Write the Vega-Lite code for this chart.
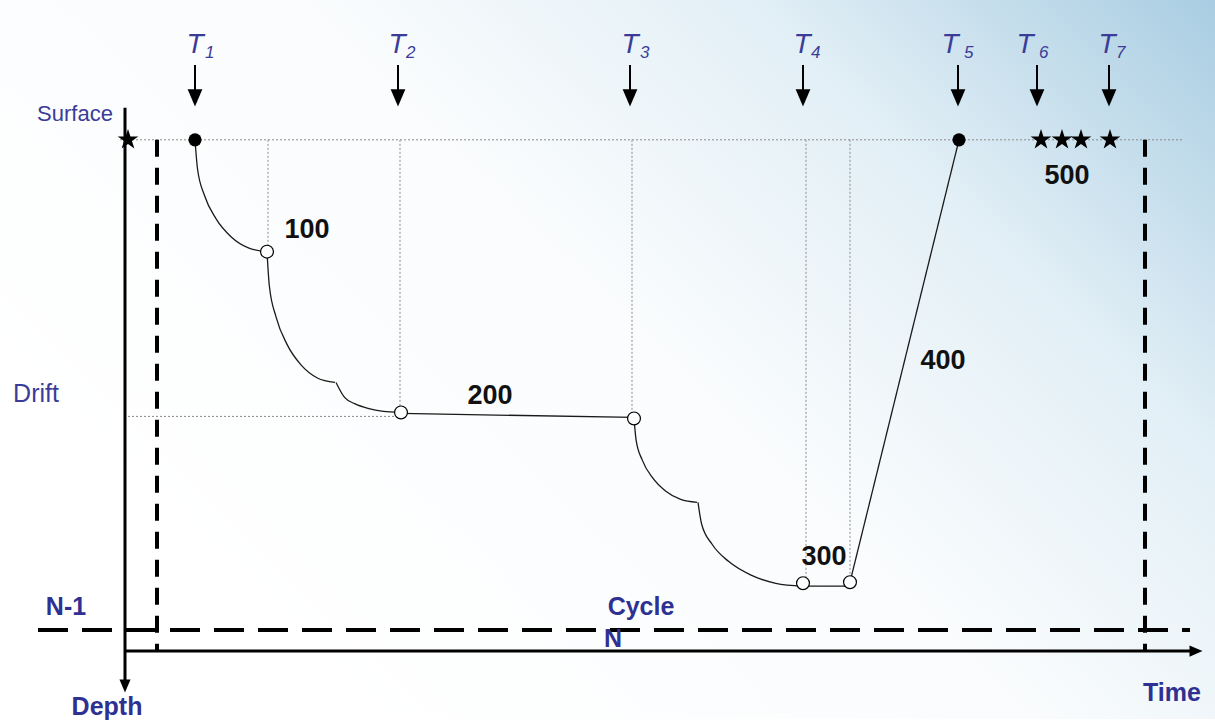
{
  "$schema": "https://vega.github.io/schema/vega-lite/v6.json",
  "width": 1215,
  "height": 720,
  "autosize": {"type": "fit", "contains": "padding"},
  "padding": 0,
  "background": "white",
  "config": {"view": {"stroke": null}},
  "encoding": {
    "x": {"field": "x", "type": "quantitative", "scale": {"domain": [0, 1215], "nice": false, "zero": false}, "axis": null},
    "y": {"field": "y", "type": "quantitative", "scale": {"domain": [0, 720], "nice": false, "zero": false, "reverse": true}, "axis": null}
  },
  "layer": [
    {
      "data": {"values": [{"x": 0, "x2": 1215, "y": 0, "y2": 720}]},
      "mark": {"type": "rect", "fill": {"gradient": "linear", "x1": 0, "y1": 0.6, "x2": 1, "y2": 0, "stops": [
        {"offset": 0, "color": "#ffffff"},
        {"offset": 0.45, "color": "#fafcfd"},
        {"offset": 0.72, "color": "#e2eff6"},
        {"offset": 1, "color": "#a9cde2"}
      ]}},
      "encoding": {"x2": {"field": "x2"}, "y2": {"field": "y2"}}
    },
    {
      "data": {"values": [
        {"kind": "dot", "x": 120, "x2": 1182, "y": 140, "y2": 140},
        {"kind": "dot", "x": 128, "x2": 400, "y": 417, "y2": 417},
        {"kind": "dot", "x": 268, "x2": 268, "y": 140, "y2": 250},
        {"kind": "dot", "x": 400, "x2": 400, "y": 140, "y2": 410},
        {"kind": "dot", "x": 632, "x2": 632, "y": 140, "y2": 416},
        {"kind": "dot", "x": 806, "x2": 806, "y": 140, "y2": 580},
        {"kind": "dot", "x": 850, "x2": 850, "y": 140, "y2": 578},
        {"kind": "dashV", "x": 157, "x2": 157, "y": 140, "y2": 652},
        {"kind": "dashV", "x": 1145, "x2": 1145, "y": 140, "y2": 652},
        {"kind": "dashH", "x": 38, "x2": 1190, "y": 631, "y2": 631},
        {"kind": "axis", "x": 125, "x2": 125, "y": 108, "y2": 684},
        {"kind": "axis", "x": 126, "x2": 1193, "y": 652, "y2": 652},
        {"kind": "shaft", "x": 195, "x2": 195, "y": 65, "y2": 92},
        {"kind": "shaft", "x": 398, "x2": 398, "y": 65, "y2": 92},
        {"kind": "shaft", "x": 630, "x2": 630, "y": 65, "y2": 92},
        {"kind": "shaft", "x": 803, "x2": 803, "y": 65, "y2": 92},
        {"kind": "shaft", "x": 958, "x2": 958, "y": 65, "y2": 92},
        {"kind": "shaft", "x": 1037, "x2": 1037, "y": 65, "y2": 92},
        {"kind": "shaft", "x": 1109, "x2": 1109, "y": 65, "y2": 92}
      ]},
      "layer": [
        {
          "transform": [{"filter": "datum.kind === 'dot'"}],
          "mark": {"type": "rule", "stroke": "#8a8a8a", "strokeWidth": 1, "strokeDash": [2, 2]},
          "encoding": {"x2": {"field": "x2"}, "y2": {"field": "y2"}}
        },
        {
          "transform": [{"filter": "datum.kind === 'dashV'"}],
          "mark": {"type": "rule", "stroke": "#000000", "strokeWidth": 4, "strokeDash": [17, 11]},
          "encoding": {"x2": {"field": "x2"}, "y2": {"field": "y2"}}
        },
        {
          "transform": [{"filter": "datum.kind === 'dashH'"}],
          "mark": {"type": "rule", "stroke": "#000000", "strokeWidth": 4, "strokeDash": [30, 14]},
          "encoding": {"x2": {"field": "x2"}, "y2": {"field": "y2"}}
        },
        {
          "transform": [{"filter": "datum.kind === 'axis'"}],
          "mark": {"type": "rule", "stroke": "#000000", "strokeWidth": 3},
          "encoding": {"x2": {"field": "x2"}, "y2": {"field": "y2"}}
        },
        {
          "transform": [{"filter": "datum.kind === 'shaft'"}],
          "mark": {"type": "rule", "stroke": "#000000", "strokeWidth": 2},
          "encoding": {"x2": {"field": "x2"}, "y2": {"field": "y2"}}
        }
      ]
    },
    {
      "data": {"values": [
        {"seg": "a", "i": 0, "x": 195, "y": 140},
        {"seg": "a", "i": 1, "x": 197.5, "y": 169},
        {"seg": "a", "i": 2, "x": 204.6, "y": 196},
        {"seg": "a", "i": 3, "x": 216.1, "y": 219.2},
        {"seg": "a", "i": 4, "x": 231, "y": 237},
        {"seg": "a", "i": 5, "x": 248.4, "y": 248.2},
        {"seg": "a", "i": 6, "x": 267, "y": 252},
        {"seg": "b", "i": 0, "x": 267, "y": 252},
        {"seg": "b", "i": 1, "x": 269.3, "y": 285.9},
        {"seg": "b", "i": 2, "x": 276.1, "y": 317.5},
        {"seg": "b", "i": 3, "x": 286.9, "y": 344.6},
        {"seg": "b", "i": 4, "x": 301, "y": 365.4},
        {"seg": "b", "i": 5, "x": 317.4, "y": 378.5},
        {"seg": "b", "i": 6, "x": 335, "y": 383},
        {"seg": "c", "i": 0, "x": 336, "y": 383},
        {"seg": "c", "i": 1, "x": 344.6, "y": 398},
        {"seg": "c", "i": 2, "x": 354.7, "y": 404.2},
        {"seg": "c", "i": 3, "x": 368, "y": 409},
        {"seg": "c", "i": 4, "x": 383.4, "y": 412},
        {"seg": "c", "i": 5, "x": 400, "y": 413},
        {"seg": "d", "i": 0, "x": 401, "y": 414},
        {"seg": "d", "i": 1, "x": 634, "y": 418},
        {"seg": "e", "i": 0, "x": 634, "y": 419},
        {"seg": "e", "i": 1, "x": 636.1, "y": 440.7},
        {"seg": "e", "i": 2, "x": 642.4, "y": 461},
        {"seg": "e", "i": 3, "x": 652.5, "y": 478.4},
        {"seg": "e", "i": 4, "x": 665.5, "y": 491.7},
        {"seg": "e", "i": 5, "x": 680.7, "y": 500.1},
        {"seg": "e", "i": 6, "x": 697, "y": 503},
        {"seg": "f", "i": 0, "x": 698, "y": 503},
        {"seg": "f", "i": 1, "x": 701.6, "y": 524.7},
        {"seg": "f", "i": 2, "x": 712.1, "y": 545},
        {"seg": "f", "i": 3, "x": 728.8, "y": 562.4},
        {"seg": "f", "i": 4, "x": 750.5, "y": 575.7},
        {"seg": "f", "i": 5, "x": 775.8, "y": 584.1},
        {"seg": "f", "i": 6, "x": 803, "y": 587},
        {"seg": "g", "i": 0, "x": 803, "y": 587},
        {"seg": "g", "i": 1, "x": 850, "y": 587},
        {"seg": "h", "i": 0, "x": 850, "y": 583},
        {"seg": "h", "i": 1, "x": 959, "y": 140}
      ]},
      "mark": {"type": "line", "stroke": "#1a1a1a", "strokeWidth": 1.3, "interpolate": "monotone"},
      "encoding": {"detail": {"field": "seg", "type": "nominal"}, "order": {"field": "i", "type": "quantitative"}}
    },
    {
      "data": {"values": [
        {"kind": "headT", "x": 195, "y": 98},
        {"kind": "headT", "x": 398, "y": 98},
        {"kind": "headT", "x": 630, "y": 98},
        {"kind": "headT", "x": 803, "y": 98},
        {"kind": "headT", "x": 958, "y": 98},
        {"kind": "headT", "x": 1037, "y": 98},
        {"kind": "headT", "x": 1109, "y": 98},
        {"kind": "headDown", "x": 125, "y": 687},
        {"kind": "headRight", "x": 1196, "y": 652},
        {"kind": "dot", "x": 195, "y": 140},
        {"kind": "dot", "x": 959, "y": 140},
        {"kind": "open", "x": 267, "y": 252},
        {"kind": "open", "x": 401, "y": 413},
        {"kind": "open", "x": 634, "y": 419},
        {"kind": "open", "x": 803, "y": 584},
        {"kind": "open", "x": 850, "y": 583},
        {"kind": "star", "x": 128, "y": 140},
        {"kind": "star", "x": 1041, "y": 140},
        {"kind": "star", "x": 1062, "y": 140},
        {"kind": "star", "x": 1081, "y": 140},
        {"kind": "star", "x": 1110, "y": 140}
      ]},
      "layer": [
        {
          "transform": [{"filter": "datum.kind === 'headT'"}],
          "mark": {"type": "point", "shape": "M-0.85,-1L0.85,-1L0,1Z", "filled": true, "fill": "#000000", "opacity": 1, "size": 300}
        },
        {
          "transform": [{"filter": "datum.kind === 'headDown'"}],
          "mark": {"type": "point", "shape": "M-0.85,-1L0.85,-1L0,1Z", "filled": true, "fill": "#000000", "opacity": 1, "size": 170}
        },
        {
          "transform": [{"filter": "datum.kind === 'headRight'"}],
          "mark": {"type": "point", "shape": "M-1,-0.85L1,0L-1,0.85Z", "filled": true, "fill": "#000000", "opacity": 1, "size": 170}
        },
        {
          "transform": [{"filter": "datum.kind === 'dot'"}],
          "mark": {"type": "point", "shape": "circle", "filled": true, "fill": "#000000", "opacity": 1, "size": 175}
        },
        {
          "transform": [{"filter": "datum.kind === 'open'"}],
          "mark": {"type": "point", "shape": "circle", "filled": true, "fill": "#ffffff", "stroke": "#000000", "strokeWidth": 1.2, "opacity": 1, "size": 165}
        },
        {
          "transform": [{"filter": "datum.kind === 'star'"}],
          "mark": {"type": "point", "shape": "M0,-1L0.2245,-0.309L0.951,-0.309L0.3633,0.118L0.5878,0.809L0,0.382L-0.5878,0.809L-0.3633,0.118L-0.951,-0.309L-0.2245,-0.309Z", "filled": true, "fill": "#000000", "opacity": 1, "size": 470}
        }
      ]
    },
    {
      "data": {"values": [
        {"kind": "T", "x": 195, "y": 53, "text": "T"},
        {"kind": "T", "x": 397, "y": 53, "text": "T"},
        {"kind": "T", "x": 630, "y": 53, "text": "T"},
        {"kind": "T", "x": 802, "y": 53, "text": "T"},
        {"kind": "T", "x": 950, "y": 53, "text": "T"},
        {"kind": "T", "x": 1025, "y": 53, "text": "T"},
        {"kind": "T", "x": 1107, "y": 53, "text": "T"},
        {"kind": "sub", "x": 205, "y": 58, "text": "1"},
        {"kind": "sub", "x": 406, "y": 58, "text": "2"},
        {"kind": "sub", "x": 640, "y": 58, "text": "3"},
        {"kind": "sub", "x": 811, "y": 58, "text": "4"},
        {"kind": "sub", "x": 964, "y": 58, "text": "5"},
        {"kind": "sub", "x": 1039, "y": 58, "text": "6"},
        {"kind": "sub", "x": 1116, "y": 58, "text": "7"},
        {"kind": "num", "x": 307, "y": 230, "text": "100"},
        {"kind": "num", "x": 490, "y": 397, "text": "200"},
        {"kind": "num", "x": 824, "y": 558, "text": "300"},
        {"kind": "num", "x": 943, "y": 362, "text": "400"},
        {"kind": "num", "x": 1067, "y": 176, "text": "500"},
        {"kind": "plain", "x": 75, "y": 114, "text": "Surface"},
        {"kind": "drift", "x": 36, "y": 395, "text": "Drift"},
        {"kind": "bold", "x": 66, "y": 608, "text": "N-1"},
        {"kind": "bold", "x": 641, "y": 608, "text": "Cycle"},
        {"kind": "bold", "x": 613, "y": 640, "text": "N"},
        {"kind": "bold", "x": 107, "y": 708, "text": "Depth"},
        {"kind": "bold", "x": 1172, "y": 694, "text": "Time"}
      ]},
      "layer": [
        {
          "transform": [{"filter": "datum.kind === 'T'"}],
          "mark": {"type": "text", "font": "Liberation Sans", "fontStyle": "italic", "fontSize": 28, "color": "#3b3c98", "align": "center", "baseline": "alphabetic"},
          "encoding": {"text": {"field": "text", "type": "nominal"}}
        },
        {
          "transform": [{"filter": "datum.kind === 'sub'"}],
          "mark": {"type": "text", "font": "Liberation Sans", "fontStyle": "italic", "fontSize": 17, "color": "#3b3c98", "align": "left", "baseline": "alphabetic"},
          "encoding": {"text": {"field": "text", "type": "nominal"}}
        },
        {
          "transform": [{"filter": "datum.kind === 'num'"}],
          "mark": {"type": "text", "font": "Liberation Sans", "fontWeight": "bold", "fontSize": 27, "color": "#111111", "align": "center", "baseline": "middle"},
          "encoding": {"text": {"field": "text", "type": "nominal"}}
        },
        {
          "transform": [{"filter": "datum.kind === 'plain'"}],
          "mark": {"type": "text", "font": "Liberation Sans", "fontSize": 22, "color": "#3b3c98", "align": "center", "baseline": "middle"},
          "encoding": {"text": {"field": "text", "type": "nominal"}}
        },
        {
          "transform": [{"filter": "datum.kind === 'drift'"}],
          "mark": {"type": "text", "font": "Liberation Sans", "fontSize": 25, "color": "#3b3c98", "align": "center", "baseline": "middle"},
          "encoding": {"text": {"field": "text", "type": "nominal"}}
        },
        {
          "transform": [{"filter": "datum.kind === 'bold'"}],
          "mark": {"type": "text", "font": "Liberation Sans", "fontWeight": "bold", "fontSize": 25, "color": "#2e3192", "align": "center", "baseline": "middle"},
          "encoding": {"text": {"field": "text", "type": "nominal"}}
        }
      ]
    }
  ]
}
